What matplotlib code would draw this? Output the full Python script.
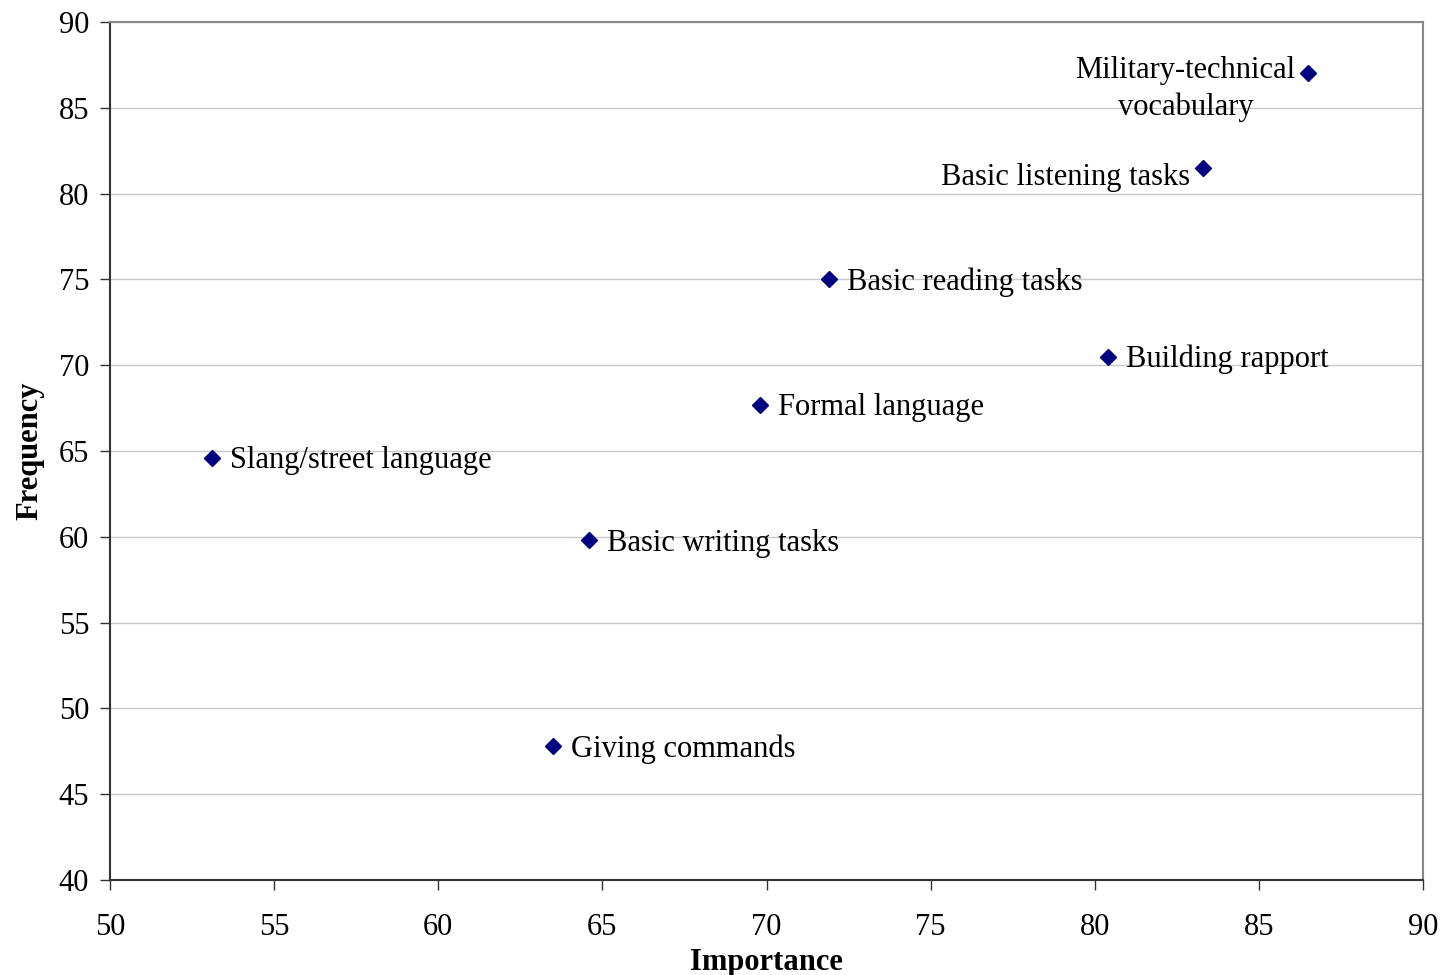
import matplotlib.pyplot as plt

labels = ["Military-technical\nvocabulary", "Basic listening tasks", "Basic reading tasks",
          "Building rapport", "Formal language", "Slang/street language",
          "Basic writing tasks", "Giving commands"]
importance = [86.5, 83.3, 71.9, 80.4, 69.8, 53.1, 64.6, 63.5]
frequency = [87.0, 81.5, 75.0, 70.5, 67.7, 64.6, 59.8, 47.8]
left_side = [True, True, False, False, False, False, False, False]

plt.rcParams['font.family'] = ['Liberation Serif', 'DejaVu Serif']
FS = 22

fig = plt.figure(figsize=(14.44, 9.75), dpi=100)
ax = fig.add_axes([110 / 1444, 1 - 880 / 975, 1313 / 1444, 858 / 975])

ax.plot(importance, frequency, 'D', color='#000080', markersize=8, zorder=3)

for lab, x, y, left in zip(labels, importance, frequency, left_side):
    if '\n' in lab:
        ax.annotate(lab, (x, y), xytext=(-9, -11), textcoords='offset points',
                    ha='right', va='center', fontsize=FS, multialignment='center',
                    linespacing=1.34)
    elif left:
        ax.annotate(lab, (x, y), xytext=(-9, -7), textcoords='offset points',
                    ha='right', va='center', fontsize=FS)
    else:
        ax.annotate(lab, (x, y), xytext=(13, -2), textcoords='offset points',
                    ha='left', va='center', fontsize=FS)

ax.set_xlim(50, 90)
ax.set_ylim(40, 90)
ax.set_xticks(range(50, 91, 5))
ax.set_yticks(range(40, 91, 5))
ax.tick_params(direction='out', length=7, width=1, labelsize=FS, color='#333333')
ax.tick_params(axis='x', pad=17)
ax.tick_params(axis='y', pad=8)
ax.yaxis.grid(True, color='#c8c8c8', linewidth=1)
ax.set_axisbelow(True)

ax.spines['left'].set_color('#333333')
ax.spines['bottom'].set_color('#333333')
ax.spines['top'].set_color('#888888')
ax.spines['right'].set_color('#888888')
for s in ax.spines.values():
    s.set_linewidth(1.5)

ax.set_xlabel('Importance', fontsize=FS, fontweight='bold', labelpad=4)
ax.set_ylabel('Frequency', fontsize=FS, fontweight='bold', labelpad=10)

fig.savefig('out.png', dpi=100)
